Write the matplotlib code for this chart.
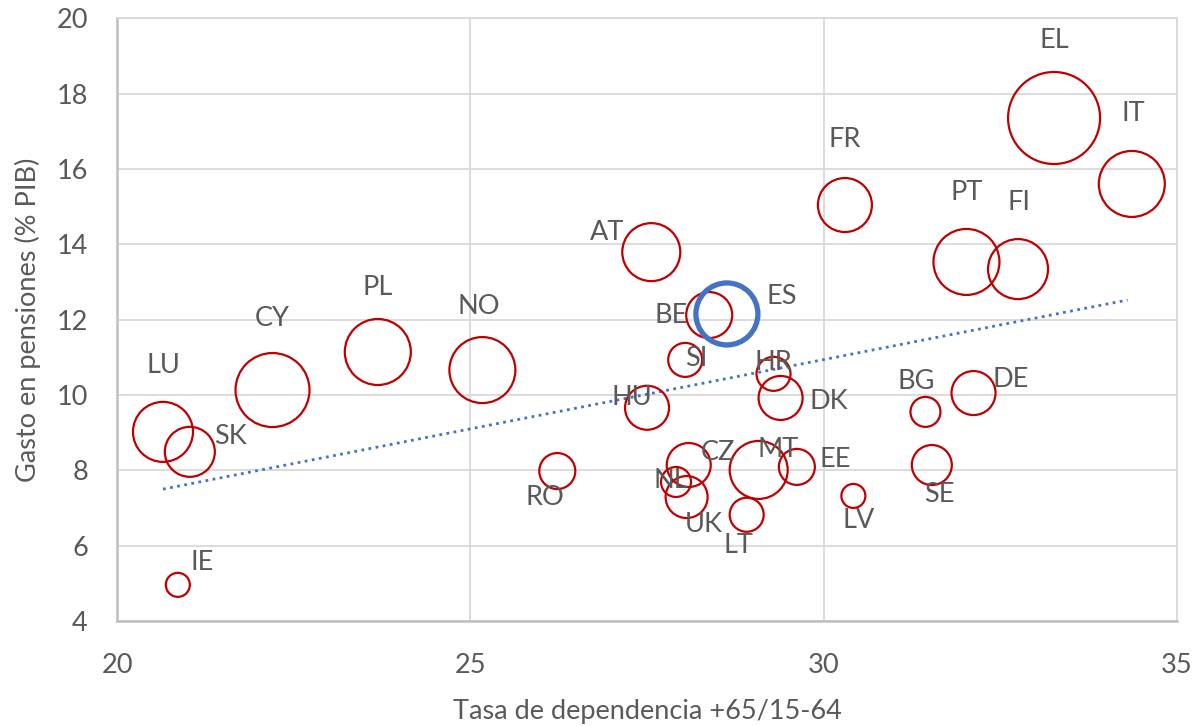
import numpy as np
import matplotlib.pyplot as plt

plt.rcParams['font.family'] = ['Lato', 'DejaVu Sans']

# Países: tasa de dependencia (x), gasto en pensiones % PIB (y), tamaño de burbuja
paises = ['LU', 'SK', 'IE', 'CY', 'PL', 'NO', 'RO', 'AT', 'HU', 'BE', 'SI', 'NL',
          'CZ', 'UK', 'MT', 'LT', 'HR', 'DK', 'EE', 'LV', 'FR', 'BG', 'DE', 'SE',
          'PT', 'FI', 'EL', 'IT']
dependencia = [20.65, 21.03, 20.86, 22.20, 23.69, 25.17, 26.23, 27.56, 27.50, 28.38,
               28.04, 27.91, 28.09, 28.06, 29.08, 28.91, 29.29, 29.39, 29.62, 30.42,
               30.30, 31.44, 32.12, 31.53, 32.02, 32.75, 33.26, 34.36]
gasto = [9.02, 8.49, 4.96, 10.13, 11.14, 10.66, 7.98, 13.79, 9.66, 12.12,
         10.93, 7.69, 8.14, 7.29, 8.01, 6.82, 10.56, 9.92, 8.09, 7.32,
         15.04, 9.55, 10.05, 8.14, 13.53, 13.34, 17.35, 15.60]
burbuja = [30, 25, 12, 37, 33, 33, 18, 29, 22, 23,
           17, 15, 22, 21, 29, 17, 17, 22, 18, 12,
           27, 15, 22, 20, 33, 30, 46, 33]

# España destacada
es_x, es_y, es_burbuja = 28.63, 12.15, 31

# Línea de tendencia (extremos)
tend_x = [20.65, 34.30]
tend_y = [7.50, 12.52]

# Posición de cada etiqueta respecto a su burbuja (en unidades de datos)
desplaz = {
    'LU': (0.0, 1.75), 'SK': (0.58, 0.4), 'IE': (0.35, 0.58), 'CY': (0.0, 1.9),
    'PL': (0.0, 1.7), 'NO': (-0.05, 1.7), 'RO': (-0.18, -0.7), 'AT': (-0.63, 0.53),
    'HU': (-0.22, 0.27), 'BE': (-0.54, 0.0), 'SI': (0.16, 0.05), 'NL': (-0.07, 0.03),
    'CZ': (0.42, 0.32), 'UK': (0.24, -0.72), 'MT': (0.28, 0.55), 'LT': (-0.11, -0.82),
    'HR': (0.0, 0.29), 'DK': (0.68, -0.1), 'EE': (0.54, 0.19), 'LV': (0.08, -0.66),
    'FR': (0.0, 1.75), 'BG': (-0.13, 0.82), 'DE': (0.52, 0.37), 'SE': (0.11, -0.77),
    'PT': (0.0, 1.85), 'FI': (0.02, 1.78), 'EL': (0.0, 2.07), 'IT': (0.02, 1.86),
}

fig = plt.figure(figsize=(11.98, 7.26), dpi=100)
ax = fig.add_axes([0.0977, 0.1446, 0.8848, 0.8304])

gris = '#595959'
fs = 19.5
px_pt = 72 / fig.dpi

s = [(2 * r * px_pt) ** 2 for r in burbuja]
ax.scatter(dependencia, gasto, s=s, facecolors='none', edgecolors='#C00000',
           linewidths=1.6, zorder=3)
ax.scatter([es_x], [es_y], s=[(2 * es_burbuja * px_pt) ** 2], facecolors='none',
           edgecolors='#4472C4', linewidths=3.8, zorder=4)

ax.plot(tend_x, tend_y, color='#4472C4', lw=2.0, linestyle=(0, (1, 1.6)), zorder=2)

for p, x, y in zip(paises, dependencia, gasto):
    dx, dy = desplaz[p]
    ax.text(x + dx, y + dy, p, ha='center', va='center', fontsize=fs, color=gris,
            zorder=5)
ax.text(es_x + 0.78, es_y + 0.45, 'ES', ha='center', va='center', fontsize=fs,
        color=gris, zorder=5)

ax.set_xlim(20, 35)
ax.set_ylim(4, 20)
ax.set_xticks([20, 25, 30, 35])
ax.set_yticks(range(4, 21, 2))
ax.grid(True, color='#D9D9D9', lw=1.3)
ax.set_axisbelow(True)
ax.tick_params(length=0, labelsize=fs, labelcolor=gris)
ax.tick_params(axis='x', pad=23)
ax.tick_params(axis='y', pad=21)

for side in ['top', 'right']:
    ax.spines[side].set_color('#D9D9D9')
    ax.spines[side].set_linewidth(1.3)
for side in ['left', 'bottom']:
    ax.spines[side].set_color('#BFBFBF')
    ax.spines[side].set_linewidth(1.8)

ax.set_xlabel('Tasa de dependencia +65/15-64', fontsize=fs, color=gris, labelpad=15)
ax.set_ylabel('Gasto en pensiones (% PIB)', fontsize=fs, color=gris, labelpad=11)

fig.savefig('out.png', dpi=100)
